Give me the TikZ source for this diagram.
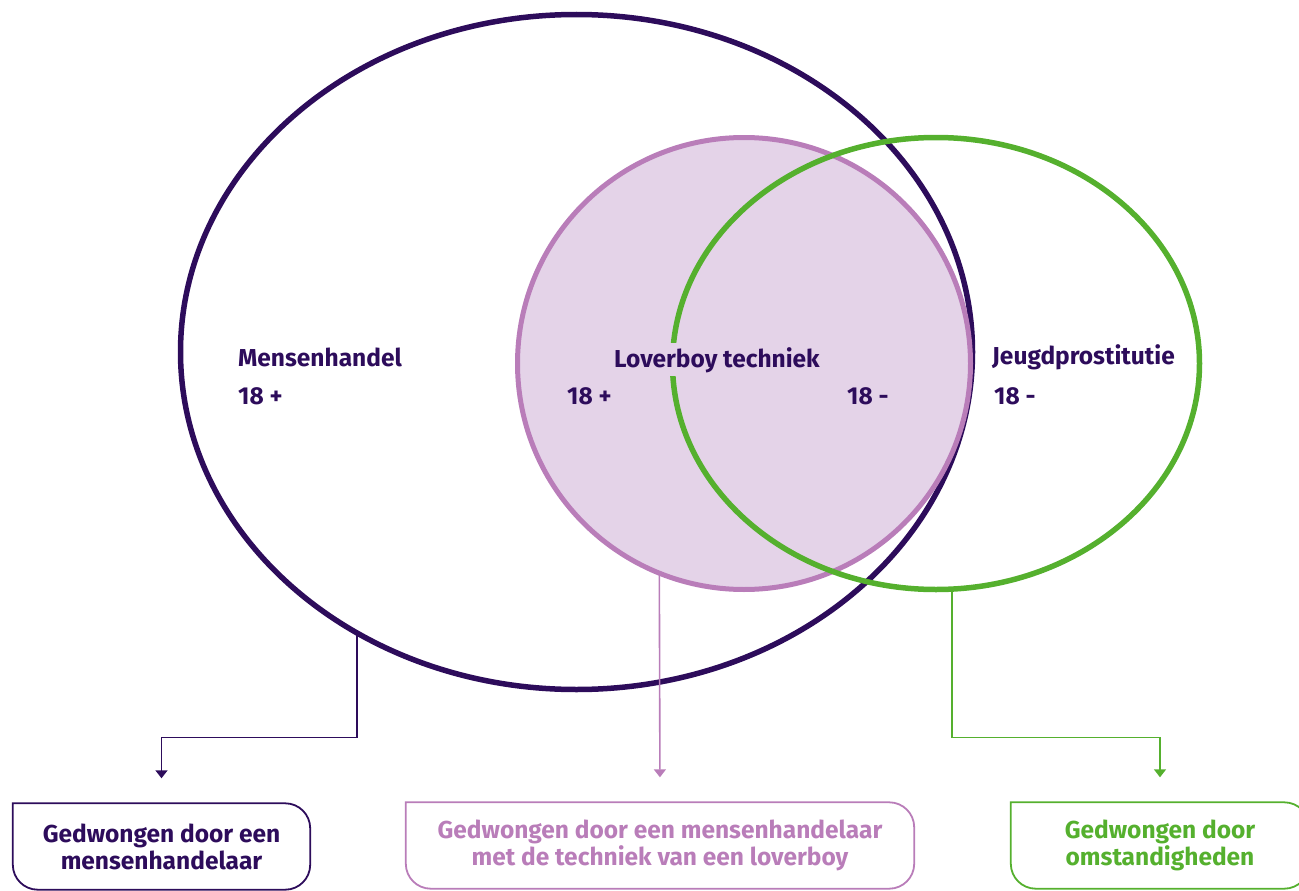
\documentclass[tikz,border=0pt]{standalone}
\usepackage{fontspec}
\setmainfont{Fira Sans}
\usetikzlibrary{shapes.geometric,arrows.meta}
\definecolor{dk}{HTML}{2D0C5B}
\definecolor{pk}{HTML}{B97DB9}
\definecolor{pkfill}{HTML}{E4D3E8}
\definecolor{gr}{HTML}{55B02E}
\tikzset{
  circ/.style={ellipse, inner sep=0pt, outer sep=0pt, line width=5pt},
  lbl/.style={anchor=base west, inner sep=0pt, text=dk, font=\bfseries\fontsize{24.5}{28}\selectfont},
  conn/.style={line width=1.6pt, shorten >=25pt, -{Triangle[width=12pt,length=8pt]}},
  boxnode/.style={minimum width=#1, minimum height=86pt, inner sep=0pt, align=center, font=\bfseries\fontsize{24.5}{27}\selectfont},
  boxline/.style={line width=1.8pt, rounded corners=25pt, line cap=rect}
}
\begin{document}
\begin{tikzpicture}[x=1pt,y=-1pt]
\useasboundingbox (0,0) rectangle (1299,891);
% circles
\node[circ, draw=dk, line width=5.5pt, minimum width=792pt, minimum height=675pt] (big) at (576.5,352) {};
\node[circ, draw=pk, fill=pkfill, minimum width=453pt, minimum height=452pt] (lb) at (744,363.5) {};
\node[circ, draw=gr, line width=5.5pt, minimum width=527pt, minimum height=452pt] (jp) at (936,363.5) {};
% labels
\node[lbl] (mh) at (238,366) {Mensenhandel};
\node[lbl] (mh18) at (238,404) {18 +};
\node[lbl, fill=pkfill, inner sep=4pt] (lt) at (610,367) {Loverboy techniek};
\node[lbl] (lt18a) at (567,404) {18 +};
\node[lbl] (lt18b) at (847,404) {18 -};
\node[lbl] (jg) at (992,364) {Jeugdprostitutie};
\node[lbl] (jg18) at (994,404) {18 -};
% boxes
\node[boxnode=297pt, text=dk] (b1) at (161.5,846.5) {Gedwongen door een\\mensenhandelaar};
\node[boxnode=508pt, text=pk] (b2) at (660,845.5) {Gedwongen door een mensenhandelaar\\met de techniek van een loverboy};
\node[boxnode=298pt, text=gr] (b3) at (1160,845.5) {Gedwongen door\\omstandigheden};
\draw[boxline, draw=dk] (b1.north west) -- (b1.north east) -- (b1.south east) -- (b1.south west) -- (b1.north west);
\draw[boxline, draw=pk] (b2.north west) -- (b2.north east) -- (b2.south east) -- (b2.south west) -- (b2.north west);
\draw[boxline, draw=gr] (b3.north west) -- (b3.north east) -- (b3.south east) -- (b3.south west) -- (b3.north west);
% connectors
\draw[conn, draw=dk] (big.232.8) |- ([yshift=66pt]b1.north) -- (b1.north);
\draw[conn, draw=pk] (lb.248.2) -- (b2.north);
\draw[conn, draw=gr] (jp.274.06) |- ([yshift=65pt]b3.north) -- (b3.north);
\end{tikzpicture}
\end{document}
